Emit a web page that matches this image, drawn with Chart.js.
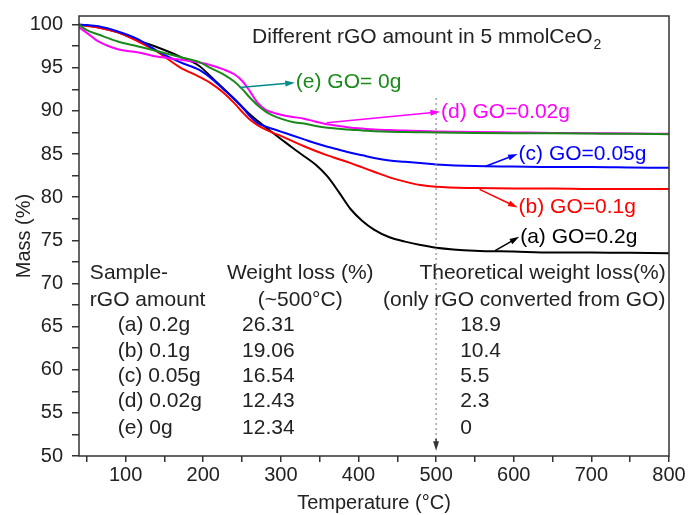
<!DOCTYPE html>
<html>
<head>
<meta charset="utf-8">
<title>TGA - rGO amount in CeO2</title>
<script src="https://cdn.jsdelivr.net/npm/chart.js"></script>
<style>
    html, body { margin: 0; padding: 0; background: #fff; }
    #wrap { width: 689px; height: 515px; }
</style>
</head>
<body>
<div id="wrap"><canvas id="myChart" width="689" height="515"></canvas></div>
<script>
const temps = [40, 50, 65, 90, 115, 140, 170, 195, 210, 225, 240, 250, 260, 270, 280, 290, 300, 315, 330, 345, 360, 375, 390, 405, 420, 440, 460, 480, 500, 550, 600, 650, 700, 750, 800];

// mass (%) for each sample
const massA = [100, 99.9, 99.7, 99.1, 98.2, 97.4, 96.3, 95.2, 93.95, 92.7, 91.4, 90.5, 89.6, 88.85, 88.13, 87.43, 86.75, 85.73, 84.75, 83.75, 82.4, 80.55, 78.6, 77.25, 76.25, 75.35, 74.85, 74.45, 74.15, 73.8, 73.7, 73.6, 73.6, 73.55, 73.5];
const massB = [100, 99.85, 99.65, 99.1, 98.1, 96.9, 95.05, 93.95, 93.2, 92.2, 90.9, 89.9, 89.0, 88.35, 87.85, 87.45, 87.1, 86.5, 85.9, 85.35, 84.85, 84.4, 83.95, 83.45, 82.95, 82.3, 81.8, 81.4, 81.2, 81.05, 81.0, 81.0, 80.95, 80.95, 80.95];
const massC = [100, 99.95, 99.8, 99.2, 98.35, 97.0, 95.65, 94.75, 93.8, 92.6, 91.35, 90.45, 89.4, 88.6, 88.2, 87.9, 87.6, 87.15, 86.7, 86.25, 85.85, 85.5, 85.15, 84.85, 84.55, 84.25, 84.1, 83.95, 83.8, 83.6, 83.55, 83.5, 83.5, 83.45, 83.4];
const massD = [99.7, 99.05, 98.05, 97.15, 96.8, 96.3, 95.95, 95.6, 95.3, 94.85, 94.25, 93.5, 92.3, 90.95, 90.15, 89.8, 89.55, 89.3, 89.1, 88.75, 88.45, 88.25, 88.05, 87.95, 87.85, 87.78, 87.72, 87.66, 87.62, 87.55, 87.5, 87.45, 87.42, 87.38, 87.35];
const massE = [100, 99.35, 98.85, 98.05, 97.5, 96.95, 96.25, 95.65, 94.95, 94.3, 93.4, 92.55, 91.55, 90.65, 89.95, 89.45, 89.1, 88.72, 88.53, 88.25, 88.05, 87.93, 87.82, 87.74, 87.65, 87.58, 87.56, 87.53, 87.5, 87.45, 87.42, 87.4, 87.37, 87.34, 87.3];

const curveLabels = ["(a) GO=0.2g", "(b) GO=0.1g", "(c) GO=0.05g", "(d) GO=0.02g", "(e) GO= 0g"];

// table inside the plot
const sampleNames = ["(a) 0.2g", "(b) 0.1g", "(c) 0.05g", "(d) 0.02g", "(e) 0g"];
const weightLoss = [26.31, 19.06, 16.54, 12.43, 12.34];
const theoreticalLoss = [18.9, 10.4, 5.5, 2.3, 0];

const xTicks = { min: 40, max: 800, step: 50 };
const yTicks = { min: 50, max: 101, step: 2.5 };

const FONT = "'Liberation Sans', Arial, Helvetica, sans-serif";
const TXT = "#222";

// where each curve label/arrow sits, in data units
const callouts = [
    { from: [576, 73.8], to: [607, 75.4], color: "#000000", text: "#000000" },
    { from: [556, 80.9], to: [605, 78.8], color: "#ff0000", text: "#ff0000" },
    { from: [563, 83.55], to: [605, 85.0], color: "#0000ff", text: "#0000ff" },
    { from: [359, 88.63], to: [505, 89.9], color: "#ff00ff", text: "#ff00ff" },
    { from: [247, 92.7], to: [318, 93.27], color: "#008b8b", text: "#1a8a1a" }
];

const drawArrow = (ctx, x1, y1, x2, y2, color) => {
    const angle = Math.atan2(y2 - y1, x2 - x1);
    const head = 10;
    ctx.save();
    ctx.strokeStyle = color;
    ctx.fillStyle = color;
    ctx.lineWidth = 1.5;
    ctx.beginPath();
    ctx.moveTo(x1, y1);
    ctx.lineTo(x2 - head * 0.7 * Math.cos(angle), y2 - head * 0.7 * Math.sin(angle));
    ctx.stroke();
    ctx.beginPath();
    ctx.moveTo(x2, y2);
    ctx.lineTo(x2 - head * Math.cos(angle - 0.3), y2 - head * Math.sin(angle - 0.3));
    ctx.lineTo(x2 - head * Math.cos(angle + 0.3), y2 - head * Math.sin(angle + 0.3));
    ctx.closePath();
    ctx.fill();
    ctx.restore();
};

const annotationPlugin = {
    id: "tgaAnnotations",
    afterDatasetsDraw(chart) {
        const { ctx, chartArea, scales } = chart;
        const px = (v) => scales.x.getPixelForValue(v);
        const py = (v) => scales.y.getPixelForValue(v);

        ctx.save();

        // frame round the plot
        ctx.strokeStyle = "#333";
        ctx.lineWidth = 1.5;
        ctx.strokeRect(chartArea.left, chartArea.top, chartArea.right - chartArea.left, chartArea.bottom - chartArea.top);

        // dotted marker at 500 °C
        ctx.strokeStyle = "#888";
        ctx.lineWidth = 1.2;
        ctx.setLineDash([2, 3]);
        ctx.beginPath();
        ctx.moveTo(px(500), py(91.5));
        ctx.lineTo(px(500), py(51.5));
        ctx.stroke();
        ctx.setLineDash([]);
        drawArrow(ctx, px(500), py(52), px(500), py(50.6), "#333");

        // title
        ctx.fillStyle = TXT;
        ctx.textBaseline = "middle";
        ctx.textAlign = "left";
        ctx.font = "21px " + FONT;
        const title = "Different rGO amount in 5 mmolCeO";
        const tx = px(263);
        const ty = py(98.6);
        ctx.fillText(title, tx, ty);
        const tw = ctx.measureText(title).width;
        ctx.font = "14px " + FONT;
        ctx.fillText("2", tx + tw + 1, ty + 8);

        // curve callouts
        ctx.font = "21px " + FONT;
        callouts.forEach((c, i) => {
            drawArrow(ctx, px(c.from[0]), py(c.from[1]), px(c.to[0]), py(c.to[1]), c.color);
            ctx.fillStyle = c.text;
            ctx.fillText(curveLabels[i], px(c.to[0]) + 1, py(c.to[1]));
        });

        // table
        ctx.fillStyle = TXT;
        ctx.font = "21px " + FONT;
        ctx.textAlign = "left";
        ctx.fillText("Sample-", px(54), py(71.2));
        ctx.fillText("rGO amount", px(54), py(68.1));
        ctx.textAlign = "center";
        ctx.fillText("Weight loss (%)", px(325), py(71.2));
        ctx.fillText("(~500°C)", px(325), py(68.1));
        ctx.textAlign = "left";
        ctx.fillText("Theoretical weight loss(%)", px(478.5), py(71.2));
        ctx.fillText("(only rGO converted from GO)", px(431.6), py(68.1));

        const rowY = [65.2, 62.2, 59.2, 56.3, 53.2];
        sampleNames.forEach((name, i) => {
            ctx.fillText(name, px(90), py(rowY[i]));
            ctx.fillText(weightLoss[i].toFixed(2), px(250), py(rowY[i]));
            ctx.fillText(String(theoreticalLoss[i]), px(531), py(rowY[i]));
        });

        ctx.restore();
    }
};

const series = [
    { data: massE, color: "#1a8a1a" },
    { data: massD, color: "#ff00ff" },
    { data: massC, color: "#0000ff" },
    { data: massB, color: "#ff0000" },
    { data: massA, color: "#000000" }
];

const tickFont = { family: FONT, size: 20 };

const ctx = document.getElementById("myChart").getContext("2d");
const myChart = new Chart(ctx, {
    type: "line",
    data: {
        datasets: series.map((s) => ({
            data: temps.map((t, i) => ({ x: t, y: s.data[i] })),
            borderColor: s.color,
            backgroundColor: s.color,
            borderWidth: 2,
            pointRadius: 0,
            fill: false,
            cubicInterpolationMode: "monotone"
        }))
    },
    options: {
        responsive: false,
        animation: false,
        layout: { padding: { left: 0, right: 20, top: 16, bottom: 0 } },
        plugins: {
            legend: { display: false },
            tooltip: { enabled: false }
        },
        scales: {
            x: {
                type: "linear",
                min: xTicks.min,
                max: xTicks.max,
                afterFit: (scale) => { scale.height = 59; },
                ticks: {
                    stepSize: xTicks.step,
                    includeBounds: false,
                    autoSkip: false,
                    maxRotation: 0,
                    padding: 1,
                    color: TXT,
                    font: tickFont,
                    callback: (v) => (v % 100 === 0 ? v : "")
                },
                grid: { drawOnChartArea: false, tickLength: 6, color: "#333", lineWidth: 1.5 },
                border: { display: false },
                title: {
                    display: true,
                    text: "Temperature (°C)",
                    color: TXT,
                    font: tickFont,
                    padding: { top: 0, bottom: 0 }
                }
            },
            y: {
                min: yTicks.min,
                max: yTicks.max,
                afterFit: (scale) => {
                    scale.width = 79;
                    // keep the plot top at the layout padding
                    scale.paddingTop = 0;
                    scale.paddingBottom = 0;
                },
                ticks: {
                    stepSize: yTicks.step,
                    includeBounds: false,
                    autoSkip: false,
                    padding: 9,
                    color: TXT,
                    font: tickFont,
                    callback: (v) => (v % 5 === 0 ? v : "")
                },
                grid: { drawOnChartArea: false, tickLength: 7, color: "#333", lineWidth: 1.5 },
                border: { display: false },
                title: {
                    display: true,
                    text: "Mass (%)",
                    color: TXT,
                    font: tickFont,
                    padding: { top: 12, bottom: 0 }
                }
            }
        }
    },
    plugins: [annotationPlugin]
});
</script>
</body>
</html>
